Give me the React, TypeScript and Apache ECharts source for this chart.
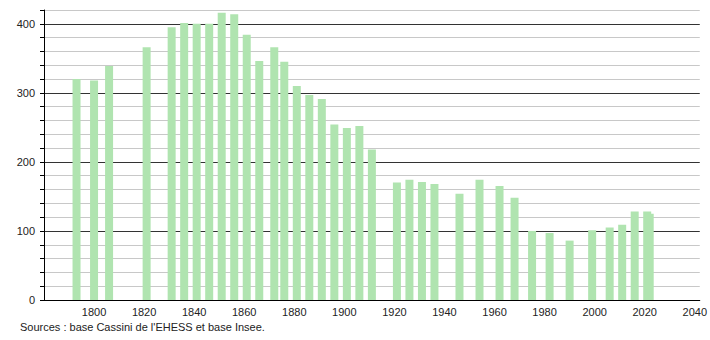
import React, { useEffect, useRef } from "react";
import * as echarts from "echarts";

const years = [1793, 1800, 1806, 1821, 1831, 1836, 1841, 1846, 1851, 1856, 1861, 1866, 1872, 1876, 1881, 1886, 1891, 1896, 1901, 1906, 1911, 1921, 1926, 1931, 1936, 1946, 1954, 1962, 1968, 1975, 1982, 1990, 1999, 2006, 2011, 2016, 2021, 2022];
const population = [320, 318, 339, 366, 395, 401, 400, 400, 416, 414, 384, 346, 366, 345, 310, 297, 291, 254, 249, 252, 218, 170, 174, 171, 168, 154, 174, 165, 148, 100, 97, 86, 101, 105, 109, 128, 128, 125];
const yTickLabels = [0, 100, 200, 300, 400];
const xTickLabels = [1800, 1820, 1840, 1860, 1880, 1900, 1920, 1940, 1960, 1980, 2000, 2020, 2040];
const sourceText = "Sources : base Cassini de l'EHESS et base Insee.";

export default function App() {
  const ref = useRef<HTMLDivElement>(null);
  useEffect(() => {
    document.body.style.margin = "0";
    if (!ref.current) return;
    const chart = echarts.init(ref.current, undefined, { renderer: "svg" });
    const font = "Liberation Sans, Arial, sans-serif";
    chart.setOption({
      animation: false,
      textStyle: { fontFamily: font },
      grid: { left: 44, right: 10, top: 10, bottom: 40 },
      xAxis: {
        type: "value",
        min: 1780,
        max: 2042,
        interval: 20,
        axisLine: { show: true, onZero: false, lineStyle: { color: "#000", width: 1 } },
        axisTick: { show: false },
        splitLine: { show: false },
        axisLabel: {
          color: "#222",
          fontSize: 11,
          fontFamily: font,
          margin: 6,
          showMinLabel: false,
          formatter: (v: number) => (xTickLabels.includes(v) ? String(v) : ""),
        },
      },
      yAxis: {
        type: "value",
        min: 0,
        max: 420,
        interval: 20,
        axisLine: { show: true, onZero: false, lineStyle: { color: "#000", width: 1 } },
        axisTick: { show: true, length: 4, lineStyle: { color: "#000" } },
        splitLine: {
          show: true,
          lineStyle: { color: ["#333", "#c8c8c8", "#c8c8c8", "#c8c8c8", "#c8c8c8"], width: 1 },
        },
        axisLabel: {
          color: "#222",
          fontSize: 11,
          fontFamily: font,
          margin: 9,
          formatter: (v: number) => (yTickLabels.includes(v) ? String(v) : ""),
        },
      },
      series: [
        {
          type: "bar",
          barWidth: 8,
          itemStyle: { color: "#b0e4b0" },
          data: years.map((y, i) => [y, population[i]]),
        },
      ],
      graphic: [
        {
          type: "text",
          left: 20,
          top: 321,
          style: { text: sourceText, fill: "#222", fontSize: 11, fontFamily: font },
        },
      ],
    });
    return () => chart.dispose();
  }, []);
  return <div ref={ref} style={{ width: 710, height: 340 }} />;
}
